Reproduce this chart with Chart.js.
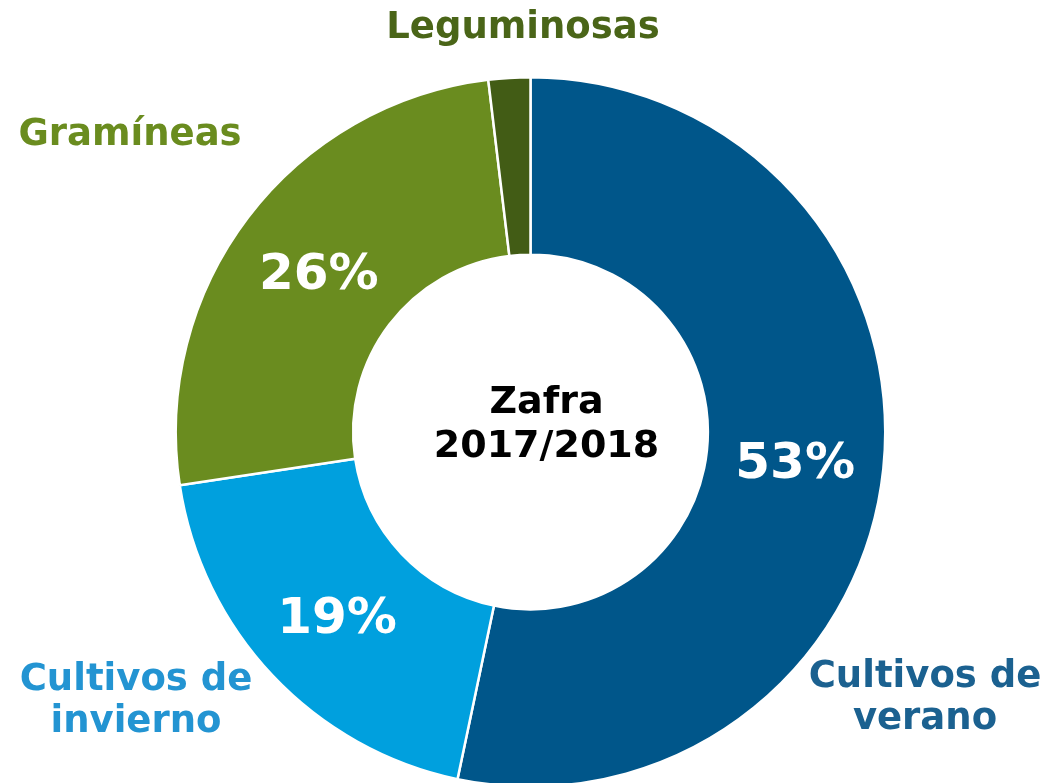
<!DOCTYPE html>
<html lang="es">
<head>
<meta charset="UTF-8">
<title>Zafra 2017/2018</title>
<script src="https://cdn.jsdelivr.net/npm/chart.js"></script>
<style>
    html, body { margin: 0; padding: 0; background: #fff; overflow: hidden; }
    .wrap { width: 1052px; height: 788px; position: relative; }
</style>
</head>
<body>
<div class="wrap">
    <canvas id="grafico"></canvas>
</div>
<script>
    // datos
    const categorias = ['Cultivos de verano', 'Cultivos de invierno', 'Gramíneas', 'Leguminosas'];
    const porcentajes = [53.3, 19.3, 25.5, 1.9];
    const colores = ['#00568A', '#00A0DE', '#6A8C1F', '#425C15'];
    const coloresEtiqueta = ['#1B6190', '#2394D2', '#6A8C1F', '#4A6518'];
    const titulo = ['Zafra', '2017/2018'];

    // posiciones de las etiquetas externas (lineas de texto)
    const etiquetasExternas = [
        { lineas: ['Cultivos de', 'verano'], x: 925, y: 677 },
        { lineas: ['Cultivos de', 'invierno'], x: 136, y: 680 },
        { lineas: ['Gramíneas'], x: 130, y: 135 },
        { lineas: ['Leguminosas'], x: 523, y: 28 }
    ];

    const fuente = '"DejaVu Sans", Verdana, sans-serif';

    const etiquetasPlugin = {
        id: 'etiquetas',
        afterDraw(chart) {
            const ctx = chart.ctx;
            const meta = chart.getDatasetMeta(0);
            ctx.save();
            ctx.textAlign = 'center';
            ctx.textBaseline = 'middle';

            // porcentajes dentro de los arcos
            ctx.font = 'bold 50px ' + fuente;
            ctx.fillStyle = '#ffffff';
            meta.data.forEach((arc, i) => {
                if (porcentajes[i] < 5) return;
                const p = arc.tooltipPosition();
                ctx.fillText(Math.round(porcentajes[i]) + '%', p.x, p.y + 5);
            });

            // etiquetas externas
            ctx.font = 'bold 37px ' + fuente;
            etiquetasExternas.forEach((e, i) => {
                ctx.fillStyle = coloresEtiqueta[i];
                e.lineas.forEach((l, j) => ctx.fillText(l, e.x, e.y + j * 42));
            });

            // titulo central
            const c = meta.data[0];
            ctx.fillStyle = '#000000';
            ctx.font = 'bold 38px ' + fuente;
            ctx.fillText(titulo[0], c.x + 16, c.y - 29);
            ctx.fillText(titulo[1], c.x + 16, c.y + 15);
            ctx.restore();
        }
    };

    new Chart(document.getElementById('grafico'), {
        type: 'doughnut',
        data: {
            labels: categorias,
            datasets: [{
                data: porcentajes,
                backgroundColor: colores,
                borderColor: '#ffffff',
                borderWidth: 2.5
            }]
        },
        options: {
            responsive: true,
            maintainAspectRatio: false,
            animation: false,
            cutout: '50%',
            layout: { padding: { top: 76, left: 173, right: 164, bottom: 0 } },
            plugins: {
                legend: { display: false },
                tooltip: { enabled: false }
            }
        },
        plugins: [etiquetasPlugin]
    });
</script>
</body>
</html>
